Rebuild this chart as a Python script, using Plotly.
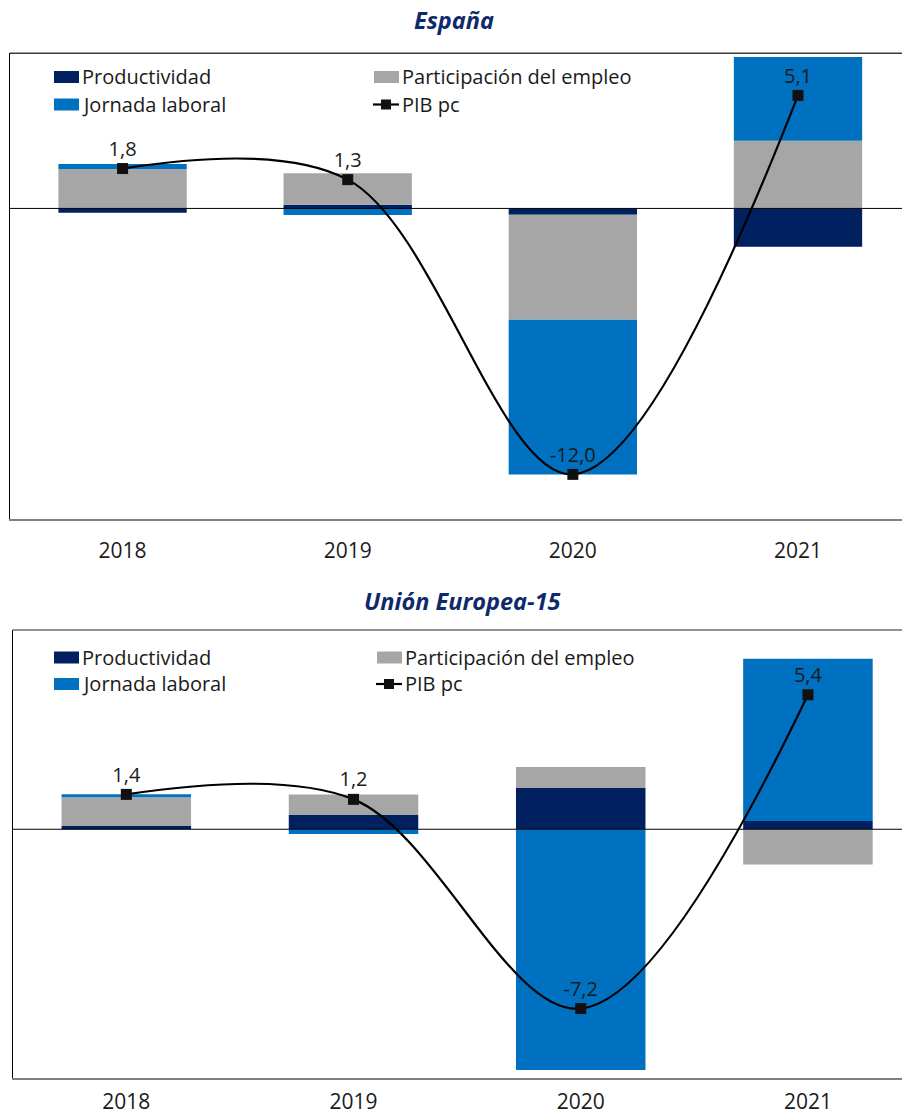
import plotly.graph_objects as go

# ---- data ----
years = ["2018", "2019", "2020", "2021"]

esp_productividad = [-0.20, 0.17, -0.28, -1.73]
esp_participacion = [1.78, 1.42, -4.74, 3.05]
esp_jornada = [0.22, -0.30, -6.98, 3.78]
esp_pib = [1.8, 1.3, -12.0, 5.1]

ue_productividad = [0.13, 0.57, 1.66, 0.33]
ue_participacion = [1.15, 0.83, 0.84, -1.42]
ue_jornada = [0.13, -0.19, -9.67, 6.52]
ue_pib = [1.4, 1.2, -7.2, 5.4]

series_names = ["Productividad", "Participación del empleo", "Jornada laboral", "PIB pc"]
panel_titles = ["España", "Unión Europea-15"]

# ---- style ----
W, H = 902, 1121
ML = 10
FONT = "Open Sans"
C_PROD = "#002060"
C_PART = "#A6A6A6"
C_JORN = "#0070C0"
C_TEXT = "#1a1a1a"
C_TITLE = "#0E2A6B"
BAR_W = 0.57


def px(x):
    return (x - ML) / (W - ML)


def py(y):
    return (H - y) / H


def fmt(v):
    return f"{v:.1f}".replace(".", ",")


fig = go.Figure()

panels = [
    ("x", "y", esp_productividad, esp_participacion, esp_jornada, esp_pib),
    ("x2", "y2", ue_productividad, ue_participacion, ue_jornada, ue_pib),
]
for xa, ya, prod, part, jorn, pib in panels:
    for vals, color, name in [(prod, C_PROD, series_names[0]),
                              (part, C_PART, series_names[1]),
                              (jorn, C_JORN, series_names[2])]:
        fig.add_trace(go.Bar(
            x=years, y=vals, name=name, marker=dict(color=color, line=dict(width=0)),
            width=BAR_W, xaxis=xa, yaxis=ya, showlegend=False,
        ))
    fig.add_trace(go.Scatter(
        x=years, y=pib, name=series_names[3], mode="lines+markers+text",
        line=dict(color="#000000", width=2.2, shape="spline", smoothing=1.0),
        marker=dict(symbol="square", size=11, color="#111111"),
        text=[fmt(v) for v in pib], textposition="top center",
        textfont=dict(family=FONT, size=20, color=C_TEXT),
        xaxis=xa, yaxis=ya, showlegend=False, cliponaxis=False,
    ))

fig.update_layout(
    width=W, height=H,
    margin=dict(l=ML, r=0, t=0, b=0),
    paper_bgcolor="white", plot_bgcolor="white",
    barmode="relative",
    font=dict(family=FONT, color=C_TEXT),
    showlegend=False,
)

axis_x = dict(
    type="category", showgrid=False, zeroline=False,
    showline=True, linecolor="#808080", linewidth=2,
    ticks="outside", ticklen=12, tickcolor="rgba(0,0,0,0)",
    tickfont=dict(family=FONT, size=21, color=C_TEXT),
    fixedrange=True,
)
axis_y = dict(
    showgrid=False, zeroline=False, showticklabels=False, ticks="",
    showline=True, linecolor="#000000", linewidth=1.3,
)
fig.update_layout(
    xaxis=dict(axis_x, domain=[0, 1], range=[-0.5, 3.462], anchor="y"),
    yaxis=dict(axis_y, domain=[py(518.7), py(53.3)], range=[-14, 7], anchor="x"),
    xaxis2=dict(axis_x, domain=[px(12.7), 1], range=[-0.5, 3.414], anchor="y2", ticklen=3),
    yaxis2=dict(axis_y, domain=[py(1078.3), py(630)], range=[-10, 8], anchor="x2"),
)

shapes = []
annotations = []

# zero lines and top borders
for xa, ya, topc in [("x", "y", "#3a3a3a"), ("x2", "y2", "#6e6e6e")]:
    shapes.append(dict(type="line", xref=f"{xa} domain", yref=ya, x0=0, x1=1, y0=0, y1=0,
                       line=dict(color="#000000", width=1), layer="above"))
    shapes.append(dict(type="line", xref=f"{xa} domain", yref=f"{ya} domain", x0=0, x1=1, y0=1, y1=1,
                       line=dict(color=topc, width=1.6), layer="above"))

# titles
for title, (cx, cy) in zip(panel_titles, [(454, 20), (463, 601)]):
    annotations.append(dict(
        text=title, x=px(cx), y=py(cy), xref="paper", yref="paper",
        xanchor="center", yanchor="middle", showarrow=False,
        font=dict(family=FONT, size=23.5, color=C_TITLE, weight="bold", style="italic"),
    ))

# legends (two columns, two rows per panel)
legend_rows = [(77, 104.5, 374, 400), (657.5, 684, 377, 403)]
for r1, r2, c2sym, c2txt in legend_rows:
    entries = [
        (series_names[0], C_PROD, 54, 80, r1, "bar"),
        (series_names[2], C_JORN, 54, 80, r2, "bar"),
        (series_names[1], C_PART, c2sym, c2txt, r1, "bar"),
        (series_names[3], "#000000", c2sym, c2txt, r2, "line"),
    ]
    for name, color, sx, tx, ry, kind in entries:
        if kind == "bar":
            shapes.append(dict(type="rect", xref="paper", yref="paper",
                               x0=px(sx), x1=px(sx + 25), y0=py(ry - 6), y1=py(ry + 6),
                               fillcolor=color, line=dict(width=0)))
        else:
            shapes.append(dict(type="line", xref="paper", yref="paper",
                               x0=px(sx - 1), x1=px(sx + 25), y0=py(ry), y1=py(ry),
                               line=dict(color=color, width=2.2)))
            shapes.append(dict(type="rect", xref="paper", yref="paper",
                               x0=px(sx + 7), x1=px(sx + 17), y0=py(ry - 5), y1=py(ry + 5),
                               fillcolor="#111111", line=dict(width=0)))
        annotations.append(dict(
            text=name, x=px(tx), y=py(ry), xref="paper", yref="paper",
            xanchor="left", yanchor="middle", showarrow=False,
            font=dict(family=FONT, size=20, color=C_TEXT),
        ))

fig.update_layout(shapes=shapes, annotations=annotations)

fig.write_html("out.html")
